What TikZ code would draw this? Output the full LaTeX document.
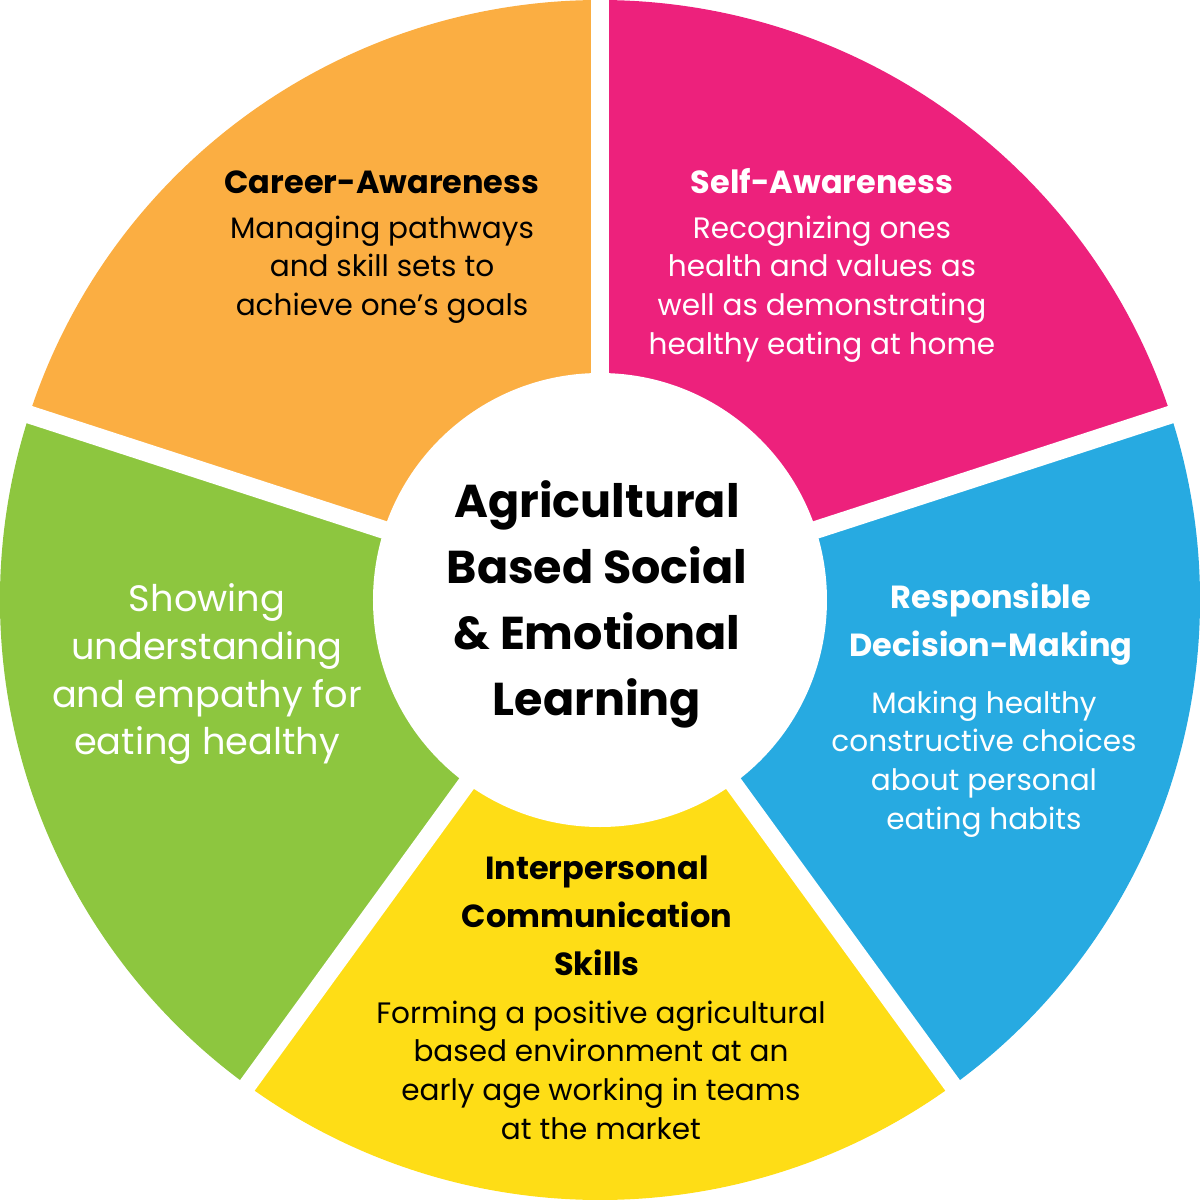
\documentclass[tikz,border=0pt]{standalone}
\usepackage{fontspec}
\setmainfont{Poppins}
\definecolor{cOrange}{HTML}{FBAE42}
\definecolor{cPink}{HTML}{ED217C}
\definecolor{cBlue}{HTML}{27AAE1}
\definecolor{cYellow}{HTML}{FEDD16}
\definecolor{cGreen}{HTML}{8DC63F}
\tikzset{
  ttl/.style={align=center, inner sep=0pt, font=\fontsize{9.1}{13.7}\selectfont\bfseries},
  bdy/.style={align=center, inner sep=0pt, font=\fontsize{8.4}{11}\selectfont},
  gap/.style={white, line width=0.18cm},
}
\begin{document}
\begin{tikzpicture}
\useasboundingbox (-6,-6) rectangle (6,6);
\fill[cPink]   (0,0) -- (18:6) arc (18:90:6) -- cycle;
\fill[cOrange] (0,0) -- (90:6) arc (90:162:6) -- cycle;
\fill[cGreen]  (0,0) -- (162:6) arc (162:234:6) -- cycle;
\fill[cYellow] (0,0) -- (234:6) arc (234:306:6) -- cycle;
\fill[cBlue]   (0,0) -- (306:6) arc (306:378:6) -- cycle;
\foreach \a in {18,90,162,234,306} \draw[gap] (0,0) -- (\a:6.3);
\fill[white] (0,0) circle (2.27);
\node[ttl] (careerT) at (-2.18,4.18) {Career-Awareness};
\node[bdy, anchor=north] (careerB) at (-2.18,3.85) {Managing pathways\\and skill sets to\\achieve one’s goals};
\node[ttl, text=white] (selfT) at (2.22,4.19) {Self-Awareness};
\node[bdy, text=white, anchor=north] (selfB) at (2.22,3.85) {Recognizing ones\\health and values as\\well as demonstrating\\healthy eating at home};
\node[ttl, text=white] (respT) at (3.91,-0.24) {Responsible\\Decision-Making};
\node[bdy, text=white, anchor=north] (respB) at (3.84,-0.90) {Making healthy\\constructive choices\\about personal\\eating habits};
\node[ttl] (interT) at (-0.03,-3.16) {Interpersonal\\Communication\\Skills};
\node[bdy, anchor=north] (interB) at (0.01,-4.00) {Forming a positive agricultural\\based environment at an\\early age working in teams\\at the market};
\node[align=center, inner sep=0pt, text=white, font=\fontsize{10.45}{13.65}\selectfont] (empathy) at (-3.93,-0.74) {Showing\\understanding\\and empathy for\\eating healthy};
\node[align=center, inner sep=0pt, font=\fontsize{13.1}{18.8}\selectfont\bfseries] (center) at (-0.03,-0.04) {Agricultural\\Based Social\\\& Emotional\\Learning};
\end{tikzpicture}
\end{document}
